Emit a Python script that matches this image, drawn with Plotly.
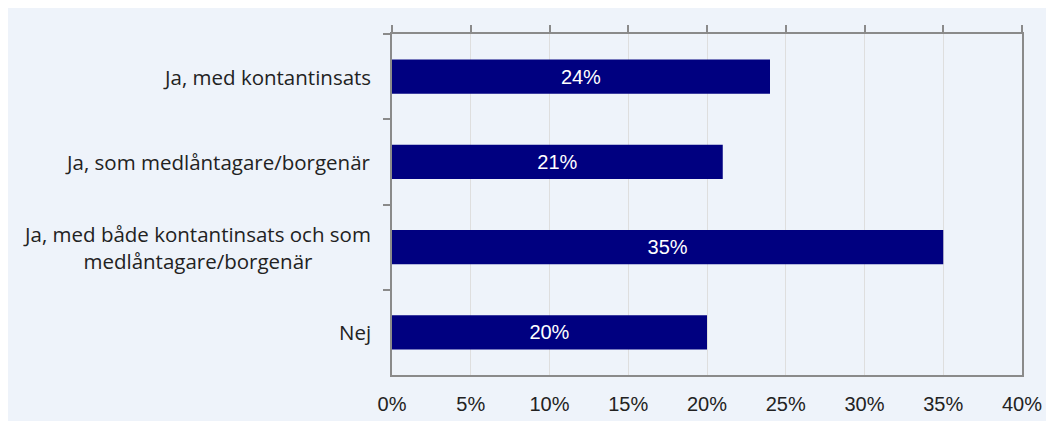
import plotly.graph_objects as go

categories = [
    "Ja, med kontantinsats",
    "Ja, som medlåntagare/borgenär",
    "Ja, med både kontantinsats och som<br>medlåntagare/borgenär",
    "Nej",
]
values = [24, 21, 35, 20]
bar_labels = [f"{v}%" for v in values]
tick_vals = [0, 5, 10, 15, 20, 25, 30, 35, 40]
tick_text = [f"{v}%" for v in tick_vals]

BG = "#eef3fa"
AX = "#8a8a8a"
TXT = "#222222"

fig = go.Figure()
fig.add_trace(go.Bar(
    x=values, y=categories, orientation="h",
    marker=dict(color="#000080", line=dict(width=0)),
    text=bar_labels, texttemplate="%{text}",
    textposition="inside", insidetextanchor="middle",
    textfont=dict(color="white", size=20, family="Liberation Sans, Arial"),
    hoverinfo="skip", showlegend=False,
))
# invisible trace to anchor the top axis
fig.add_trace(go.Scatter(x=values, y=categories, mode="none", xaxis="x2",
                         hoverinfo="skip", showlegend=False))

for c in categories:
    fig.add_annotation(
        x=-19 / 630, xref="paper", y=c, yref="y", text=c, showarrow=False,
        xanchor="right", yanchor="middle", align="center",
        font=dict(family="Open Sans, sans-serif", size=20.5, color=TXT),
    )

fig.update_layout(
    width=1054, height=421,
    margin=dict(l=384, r=40, t=26, b=54),
    paper_bgcolor=BG, plot_bgcolor=BG,
    bargap=0.6,
    xaxis=dict(
        range=[0, 40], tickvals=tick_vals, ticktext=tick_text,
        showgrid=True, gridcolor="#dedede", gridwidth=1,
        showline=True, linecolor=AX, linewidth=2, mirror=False,
        ticks="", ticklabelstandoff=10, zeroline=False,
        tickfont=dict(family="Liberation Sans, Arial", size=20, color=TXT),
    ),
    xaxis2=dict(
        range=[0, 40], overlaying="x", side="top", tickvals=tick_vals,
        showticklabels=False, showgrid=False, zeroline=False,
        showline=True, linecolor=AX, linewidth=2,
        ticks="outside", ticklen=7, tickwidth=2, tickcolor=AX,
    ),
    yaxis=dict(
        categoryorder="array", categoryarray=categories, autorange="reversed",
        showticklabels=False, tickson="boundaries",
        ticks="outside", ticklen=7, tickwidth=2, tickcolor=AX,
        showline=True, linecolor=AX, linewidth=2, mirror=True,
        showgrid=False, zeroline=False,
    ),
)

fig.write_html("out.html")
